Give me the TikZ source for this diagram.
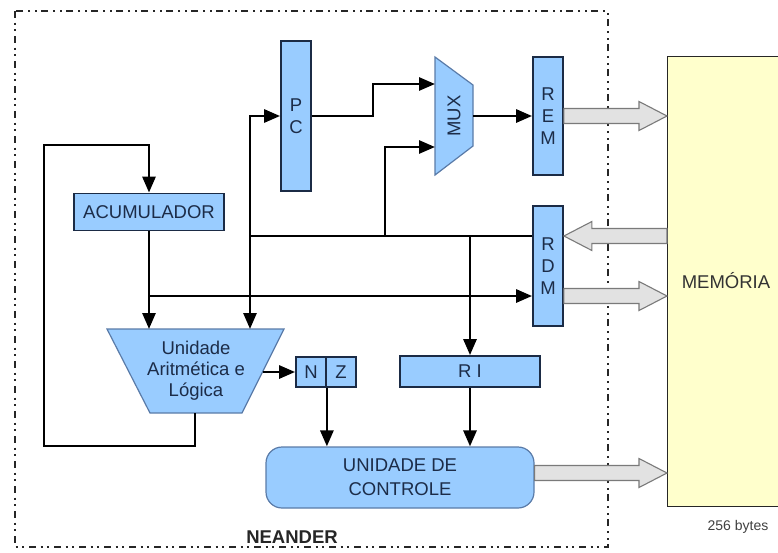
\documentclass[tikz,border=0pt]{standalone}
\usepackage{fontspec}
\setmainfont{Liberation Sans}
\usetikzlibrary{arrows.meta,calc}

\definecolor{boxfill}{HTML}{99CCFF}
\definecolor{boxline}{HTML}{1B2B45}
\definecolor{softline}{HTML}{5A7BA8}
\definecolor{txt}{HTML}{1C2C48}
\definecolor{memfill}{HTML}{FFFFCC}
\definecolor{busfill}{HTML}{E2E2E2}
\definecolor{busline}{HTML}{7A7A7A}

\tikzset{
  reg/.style={draw=boxline, fill=boxfill, line width=1.8pt, inner sep=0pt,
    text=txt, font=\fontsize{18.5}{22}\selectfont, align=center},
  lbl/.style={text=txt, font=\fontsize{18.5}{21}\selectfont, align=center, inner sep=0pt},
  unit/.style={draw=softline, fill=boxfill, line width=1.2pt, line join=miter},
  wire/.style={line width=2.8pt, -{Triangle[length=16pt,width=13pt]}},
  bus/.style={draw=busline, fill=busfill, line width=1.1pt, line join=miter},
  frame/.style={draw=black!85, line width=1.8pt,
    dash pattern=on 7pt off 4.5pt on 2pt off 4.5pt on 2pt off 5pt},
}

% wide hollow bus arrow between two points at the same height
\newcommand\busarrow[2]{%
  \filldraw[bus] let \p1=(#1), \p2=(#2), \n1={\x2-28pt*sign(\x2-\x1)} in
    (\x1,\y1+7.5pt) -- (\n1,\y1+7.5pt) -- (\n1,\y1+14.5pt) -- (\x2,\y1)
    -- (\n1,\y1-14.5pt) -- (\n1,\y1-7.5pt) -- (\x1,\y1-7.5pt) -- cycle;}

\begin{document}
\begin{tikzpicture}[x=1pt,y=-1pt]
\useasboundingbox (0,0) rectangle (778,552);

% processor boundary
\draw[frame] (15,11) rectangle (608,547);
\node[font=\fontsize{18.5}{21}\selectfont\bfseries, text=black!85, inner sep=0pt] (neander) at (292,537) {NEANDER};

% memory block
\node[draw=black!85, fill=memfill, line width=1.4pt, minimum width=120pt, minimum height=450pt, anchor=north west, inner sep=0pt] (mem) at (667,56) {};
\node[font=\fontsize{18.5}{21}\selectfont, text=black!80, inner sep=0pt] (memlbl) at (726,281) {MEMÓRIA};
\node[font=\fontsize{14}{16}\selectfont, text=black!75, inner sep=0pt] (size) at (738,527) {256 bytes};

% registers
\node[reg, minimum width=30pt, minimum height=150pt] (pc) at (296,116) {P\\C};
\node[reg, minimum width=150pt, minimum height=37pt] (acc) at (149,212) {ACUMULADOR};
\node[reg, minimum width=30pt, minimum height=118pt] (rem) at (548,116) {R\\E\\M};
\node[reg, minimum width=30pt, minimum height=120pt] (rdm) at (548,266) {R\\D\\M};
\node[reg, minimum width=30pt, minimum height=30pt] (nn) at (311,372) {N};
\node[reg, minimum width=30pt, minimum height=30pt] (zz) at (341,372) {Z};
\node[reg, minimum width=140pt, minimum height=31pt] (ri) at (470,371.5) {R I};

% multiplexer
\coordinate (muxtl) at (435,57);
\coordinate (muxtr) at (473,85);
\coordinate (muxbr) at (473,146);
\coordinate (muxbl) at (435,175);
\filldraw[unit] (muxtl) -- (muxtr) -- (muxbr) -- (muxbl) -- cycle;
\node[lbl, rotate=90] (mux) at (454,116) {MUX};
\coordinate (muxin1) at (435,84);
\coordinate (muxin2) at (435,147);
\coordinate (muxout) at (473,116);

% arithmetic and logic unit
\coordinate (alutl) at (107,329);
\coordinate (alutr) at (284,329);
\coordinate (alubr) at (242,413);
\coordinate (alubl) at (150,413);
\filldraw[unit] (alutl) -- (alutr) -- (alubr) -- (alubl) -- cycle;
\node[lbl] (alu) at (196,371) {Unidade\\Aritmética e\\Lógica};
\coordinate (alub) at (195,413);
\coordinate (alur) at (262.5,372);

% control unit
\node[draw=softline, fill=boxfill, line width=1.2pt, rounded corners=16pt,
  minimum width=268pt, minimum height=61pt, text=txt,
  font=\fontsize{18.5}{24}\selectfont, align=center] (cu) at (400,477.5) {UNIDADE DE\\CONTROLE};

% junction points on the internal data bus
\coordinate (jpc) at (250,236);
\coordinate (jmux) at (385,236);
\coordinate (jacc) at (149,296);

% data paths
\draw[wire] (alub) -- ++(0,33) -| (44,145) -| (acc.north);
\draw[wire] (acc.south) -- (acc.south |- alutl);
\draw[wire] (jacc) -- (rdm.west |- jacc);
\draw[wire] (rdm.west |- jpc) -| (250,116) -- (pc.west);
\draw[wire] (jpc) -- (jpc |- alutl);
\draw[wire] (jmux) |- (muxin2);
\draw[wire] (ri.north |- jpc) -- (ri.north);
\draw[wire] (pc.east) -| (373,84) -- (muxin1);
\draw[wire] (muxout) -- (rem.west);
\draw[wire] (alur) -- (nn.west);
\draw[wire] (nn.south east) -- (nn.south east |- cu.north);
\draw[wire] (ri.south) -- (ri.south |- cu.north);

% memory buses
\coordinate (ylow) at (0,473);
\busarrow{rem.east}{mem.west |- rem.east}
\busarrow{mem.west |- jpc}{rdm.east |- jpc}
\busarrow{rdm.east |- jacc}{mem.west |- jacc}
\busarrow{cu.east |- ylow}{mem.west |- ylow}
\end{tikzpicture}
\end{document}
